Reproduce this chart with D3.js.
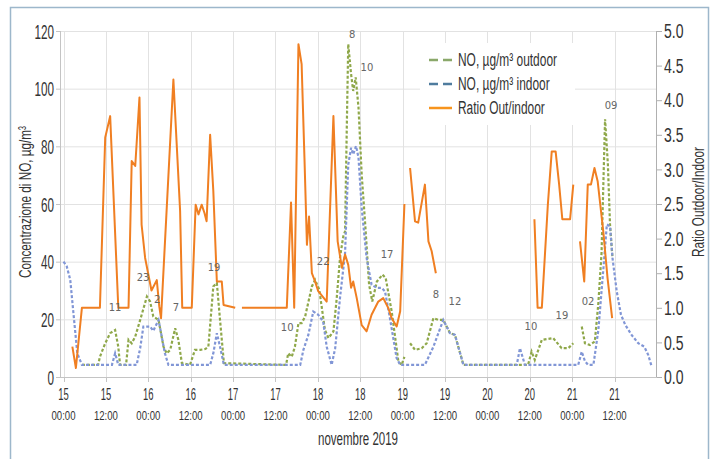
<!DOCTYPE html>
<html>
<head>
<meta charset="utf-8">
<script src="https://cdn.jsdelivr.net/npm/d3@7"></script>
<style>
  html, body { margin: 0; padding: 0; background: #fff; }
  svg { display: block; font-family: 'Liberation Sans Narrow', 'Liberation Sans', sans-serif; }
</style>
</head>
<body>
<svg id="chart" width="715" height="459"></svg>
<script>
// ore dalle 15/11 00:00 -> valore
const outdoor = [
  [5.2,4.2],[9.8,4.2],[10.3,7],[11.8,11.7],[13.2,15.2],[14.6,16.3],[15.5,10.5],[16,4.2],[17.7,4.2],
  [18.4,12.9],[19.3,11.7],[20.3,14],[21.7,19.8],[23.6,27.9],[24.5,26.2],[25.4,21],[26.9,19.8],
  [28.3,10.5],[29.2,8.2],[30.2,9.4],[31.6,16.9],[32.5,12.9],[33.5,4.8],[35.8,4.2],[37.2,9.4],
  [38.7,9.4],[40.1,9.7],[41,10.5],[42.4,31.4],[43.4,32.6],[44.3,19.8],[45.4,4.8],[63,4.2],
  [63.6,8.2],[64.6,7],[65.5,10.5],[66.5,18.7],[67.4,18.7],[68.4,21],[70.3,31.4],[71.2,33.7],
  [72.4,30.3],[74,16.3],[75,13.5],[76.4,15.8],[77.3,26.8],[78.3,41.8],[79.2,48.8],[79.7,50.5],
  [80.2,87.6],[80.6,115.5],[81.4,105],[82,99.2],[82.7,103.9],[83.5,93.5],[84.4,70.3],[85.4,52.9],
  [86.5,32],[87.4,26.2],[88.7,33.1],[90.3,35.5],[91.2,34.3],[92.9,22.7],[94.8,5.3],[95.7,4.2],
  [96.5,7], [97.3,null],
  [98.1,11.7],[99.5,9.4],[101.4,10],[102.8,11.7],[104.7,20.4],[106.1,19.8],[107.5,19.8],
  [109.4,15.2],[110.8,14.6],[113.2,4.2],[131.5,4.2],[132.5,8.8],[133.4,5.9],[135.4,12.9],
  [138.6,13.5],[141,10],[142.9,10],[144.3,11.7],[145.2,null],
  [146.7,17.5],[147.6,11.7],[149,11.1],[150.4,12.3],[151.4,25.6],[152.3,43],[153.3,89.4],
  [154.1,73.7],[154.7,52.9],[155.4,41.3]
];

const indoor = [
  [0,40],[0.9,38.4],[1.9,33.7],[2.8,22.2],[3.9,8.2],[5.2,4.2],[13.7,4.2],[14.6,8.2],[15.5,4.2],
  [20.7,4.2],[21.7,10],[22.6,17.5],[24.5,17.5],[25.4,16],[26.9,19.8],[27.8,14],[28.7,8.2],
  [29.7,4.2],[41.5,4.2],[42.4,8.2],[43.4,15.2],[44.3,10.5],[45.4,4.2],[67,4.2],[67.9,9.4],
  [69.3,14.6],[70.7,22.7],[72.1,21.6],[73.5,19.2],[74.5,10.5],[75.9,4.2],[76.9,10],[78.3,27.9],
  [79.7,43],[80.6,73.7],[81.4,79.5],[82,77.2],[82.8,80.1],[83.5,76.1],[84.4,58.7],[85.8,41.3],
  [87.2,32],[88.7,30.9],[90.1,30.9],[91,29.7],[92.4,20.4],[94.3,6.5],[95.3,4.2],[102.3,4.2],
  [104.7,10.5],[107.5,19.8],[109.4,15.2],[110.8,14.6],[113.2,4.2],[128.3,4.2],[129.2,10],
  [130.6,4.2],[145.7,4.2],[146.7,8.8],[147.6,5.5],[148.5,4.2],[150,4.2],[151.4,16.3],
  [152.8,37.2],[153.8,52.9],[154.7,52.3],[155.4,41.3],[156.6,29.7],[157.8,21.6],[159,18.1],
  [160.8,14.6],[162.7,11.7],[164.4,10.5],[165.5,7.7],[166.5,3.6]
];

const ratio = [
  [2.5,0.44],[3.5,0.13],[5.2,1.0],[10.3,1.0],[11.8,3.46],[13.2,3.77],[15.5,1.0],[18.4,1.0],
  [19.3,3.12],[20.3,3.05],[21.5,4.04],[22.1,2.2],[23.1,1.72],[24.9,1.25],[26.4,1.4],[27.1,1.02],
  [27.6,0.85],[31.1,4.3],[33,2.4],[33.6,1.0],[36.3,1.0],[37.4,2.49],[38.2,2.35],[39.1,2.49],
  [39.9,2.37],[40.5,2.25],[41.5,3.5],[42.4,2.69],[43.4,1.38],[44.8,1.38],[45.3,1.04],[48.6,1.0],
  [49.5,null],
  [50.5,1.0],[63.2,1.0],[64.4,2.52],[65.3,1.0],[66.5,4.81],[67.4,4.52],[68.2,3.17],[68.9,1.91],
  [69.5,2.32],[70.3,1.5],[71.2,1.38],[72.1,1.24],[74.5,1.09],[76.4,3.77],[77.6,1.96],[78.8,1.58],
  [79.7,1.77],[80.6,1.62],[81.4,1.29],[82,1.38],[83,1.14],[84.4,0.75],[85.8,0.66],[87.2,0.9],
  [89.1,1.09],[90.5,1.14],[91.9,1.0],[92.9,0.85],[94.3,0.73],[95.3,0.95],[96.5,2.5],
  [97.3,null],
  [98.1,3.02],[99.5,2.25],[100.4,2.23],[102.3,2.78],[103.3,1.96],[104.2,1.82],[105.4,1.5],
  [120,null],
  [133.3,2.28],[134.2,1.0],[135.4,1.0],[137.1,2.49],[138.2,3.26],[139.3,3.26],[140.3,2.78],
  [141.2,2.28],[143.4,2.28],[144.3,2.78],[145.2,null],
  [146.2,1.96],[147.4,1.38],[148.4,2.78],[149.3,2.78],[150.3,3.02],[151.2,2.83],[152.8,2.1],
  [154,1.43],[155.3,0.85]
];

// etichette sparse sul grafico
const noteText = ['11','23','2','7','19','10','22','8','10','17','8','12','10','19','02','09'];
const noteHour = [14.6,22.5,26.5,31.8,42.6,63.3,73.5,81.7,85.9,91.6,105.4,110.8,132.3,141.1,148.5,155];
const noteVal  = [24,34.4,26.8,24,37.9,17,40,118.9,107.5,42.4,28.5,26.1,17.4,21.2,26.1,94.3];

const tickHours = d3.range(0, 157, 12);
const dayLabels = ['15','15','16','16','17','17','18','18','19','19','20','20','21','21'];
const timeLabels = tickHours.map((h, i) => i % 2 ? '12:00' : '00:00');
const leftTicks = d3.range(0, 121, 20);
const rightTicks = d3.range(0, 5.01, 0.5);

const legendItems = ['NO, µg/m³ outdoor', 'NO, µg/m³ indoor', 'Ratio Out/indoor'];

const svg = d3.select('#chart');

const x = d3.scaleLinear().domain([-1, 168]).range([60, 657]);
const yL = d3.scaleLinear().domain([0, 120]).range([377, 31]);
const yR = d3.scaleLinear().domain([0, 5]).range([377, 31]);

// stringe il testo alla larghezza del riferimento
function fit(sel, refW, refText) {
  let k = 1;
  sel.each(function () {
    if (this.textContent === refText) k = refW / this.getComputedTextLength();
  });
  sel.each(function () {
    this.setAttribute('textLength', this.getComputedTextLength() * k);
    this.setAttribute('lengthAdjust', 'spacingAndGlyphs');
  });
}

// cornice
svg.append('rect')
  .attr('x', 10.5).attr('y', 7.5).attr('width', 698).attr('height', 470)
  .attr('fill', '#fff').attr('stroke', '#9db7cb').attr('stroke-width', 1.5);

// griglia
svg.append('g').selectAll('line').data(leftTicks.slice(1)).join('line')
  .attr('x1', 60).attr('x2', 657)
  .attr('y1', d => yL(d) + 0.5).attr('y2', d => yL(d) + 0.5)
  .attr('stroke', '#e2e2e2');
svg.append('g').selectAll('line').data(tickHours).join('line')
  .attr('x1', d => Math.round(x(d)) + 0.5).attr('x2', d => Math.round(x(d)) + 0.5)
  .attr('y1', 31).attr('y2', 377)
  .attr('stroke', '#e2e2e2');

// assi
const axisColor = '#c4c4c4';
svg.append('line').attr('x1', 60.5).attr('x2', 60.5).attr('y1', 31).attr('y2', 377).attr('stroke', axisColor);
svg.append('line').attr('x1', 60).attr('x2', 657).attr('y1', 377.5).attr('y2', 377.5).attr('stroke', axisColor);
svg.append('line').attr('x1', 656.5).attr('x2', 656.5).attr('y1', 31).attr('y2', 377).attr('stroke', '#b0b0b0');

svg.append('g').selectAll('line').data(tickHours).join('line')
  .attr('x1', d => Math.round(x(d)) + 0.5).attr('x2', d => Math.round(x(d)) + 0.5)
  .attr('y1', 377).attr('y2', 382).attr('stroke', axisColor);
svg.append('g').selectAll('line').data(leftTicks).join('line')
  .attr('x1', 56).attr('x2', 60).attr('y1', d => yL(d) + 0.5).attr('y2', d => yL(d) + 0.5)
  .attr('stroke', axisColor);
svg.append('g').selectAll('line').data(rightTicks).join('line')
  .attr('x1', 657).attr('x2', 662).attr('y1', d => yR(d) + 0.5).attr('y2', d => yR(d) + 0.5)
  .attr('stroke', '#b0b0b0');

const txt = '#333';
const leftLab = svg.append('g').selectAll('text').data(leftTicks).join('text')
  .attr('x', 54).attr('y', d => yL(d)).attr('dy', '0.36em')
  .attr('text-anchor', 'end').attr('font-size', 21).attr('fill', txt)
  .text(d => d);
fit(leftLab, 19.5, '120');

const rightLab = svg.append('g').selectAll('text').data(rightTicks).join('text')
  .attr('x', 664).attr('y', d => yR(d)).attr('dy', '0.36em')
  .attr('font-size', 20).attr('fill', txt)
  .text(d => d.toFixed(1));
fit(rightLab, 19.5, '5.0');

const dayLab = svg.append('g').selectAll('text').data(tickHours).join('text')
  .attr('x', d => x(d)).attr('y', 400)
  .attr('text-anchor', 'middle').attr('font-size', 16).attr('fill', txt)
  .text((d, i) => dayLabels[i]);
fit(dayLab, 10.5, '15');

const timeLab = svg.append('g').selectAll('text').data(tickHours).join('text')
  .attr('x', d => x(d)).attr('y', 420)
  .attr('text-anchor', 'middle').attr('font-size', 12).attr('fill', txt)
  .text((d, i) => timeLabels[i]);
fit(timeLab, 24, '00:00');

const xTitle = svg.append('text').attr('x', 358).attr('y', 445)
  .attr('text-anchor', 'middle').attr('font-size', 18).attr('fill', txt)
  .text('novembre 2019');
fit(xTitle, 80, 'novembre 2019');

const yTitleL = svg.append('text')
  .attr('transform', 'translate(31,202) rotate(-90)')
  .attr('text-anchor', 'middle').attr('font-size', 17).attr('fill', txt)
  .text('Concentrazione di NO, µg/m³');
fit(yTitleL, 152, 'Concentrazione di NO, µg/m³');

const yTitleR = svg.append('text')
  .attr('transform', 'translate(704,202) rotate(-90)')
  .attr('text-anchor', 'middle').attr('font-size', 17).attr('fill', txt)
  .text('Ratio Outdoor/Indoor');
fit(yTitleR, 110, 'Ratio Outdoor/Indoor');

// serie
const lineL = d3.line().defined(d => d[1] != null).x(d => x(d[0])).y(d => yL(d[1]));
const lineR = d3.line().defined(d => d[1] != null).x(d => x(d[0])).y(d => yR(d[1]));

svg.append('path').datum(outdoor).attr('d', lineL)
  .attr('fill', 'none').attr('stroke', '#8fa84a').attr('stroke-width', 2.2)
  .attr('stroke-dasharray', '3,2');
svg.append('path').datum(indoor).attr('d', lineL)
  .attr('fill', 'none').attr('stroke', '#8196d6').attr('stroke-width', 2.2)
  .attr('stroke-dasharray', '3,2');
svg.append('path').datum(ratio).attr('d', lineR)
  .attr('fill', 'none').attr('stroke', '#f07f22').attr('stroke-width', 2)
  .attr('stroke-linejoin', 'round');

// numeri sparsi
svg.append('g').selectAll('text').data(noteText).join('text')
  .attr('x', (d, i) => x(noteHour[i])).attr('y', (d, i) => yL(noteVal[i])).attr('dy', '0.35em')
  .attr('text-anchor', 'middle').attr('font-size', 10).attr('fill', '#666')
  .attr('font-family', 'DejaVu Sans')
  .text(d => d);

// legenda
const leg = svg.append('g');
leg.append('rect').attr('x', 420).attr('y', 43).attr('width', 155).attr('height', 82).attr('fill', '#fff');
const legColors = ['#8aa86a', '#4f7c9e', '#f7941d'];
const legDash = ['9,5', '9,5', null];
const legY = [60, 84, 108];
legendItems.forEach((name, i) => {
  leg.append('line').attr('x1', 429).attr('x2', 452).attr('y1', legY[i]).attr('y2', legY[i])
    .attr('stroke', legColors[i]).attr('stroke-width', 2.5)
    .attr('stroke-dasharray', legDash[i]);
});
const legText = leg.selectAll('text').data(legendItems).join('text')
  .attr('x', 458).attr('y', (d, i) => legY[i]).attr('dy', '0.36em')
  .attr('font-size', 18).attr('fill', txt)
  .text(d => d);
fit(legText, 99, 'NO, µg/m³ outdoor');
</script>
</body>
</html>
